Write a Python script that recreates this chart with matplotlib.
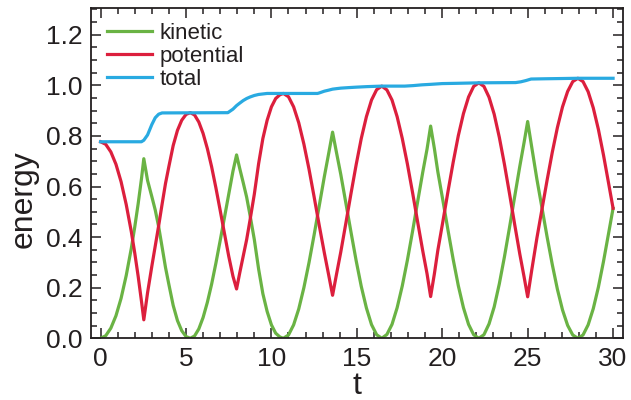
import matplotlib
matplotlib.use("Agg")
import matplotlib.pyplot as plt
from matplotlib.ticker import MultipleLocator

t_pk = [
    0.0, 0.3, 0.6, 0.9, 1.2, 1.5, 1.8, 2.0, 2.2, 2.4, 2.53,
    2.75, 3.0, 3.2, 3.4, 3.6, 3.8, 4.0, 4.25, 4.5, 4.75, 5.0, 5.25,
    5.5, 5.75, 6.0, 6.25, 6.5, 6.75, 7.0, 7.25, 7.5, 7.75, 7.96,
    8.15, 8.35, 8.55, 8.75, 9.0, 9.25, 9.5, 9.75, 10.0, 10.25, 10.5, 10.7,
    11.0, 11.3, 11.6, 11.9, 12.2, 12.5, 12.8, 13.1, 13.35, 13.58,
    13.81, 14.06, 14.36, 14.66, 14.96, 15.26, 15.56, 15.86, 16.16, 16.46,
    16.76, 17.06, 17.36, 17.66, 17.96, 18.26, 18.56, 18.86, 19.11, 19.32,
    19.54, 19.74, 20.04, 20.34, 20.64, 20.94, 21.24, 21.54, 21.84, 22.14,
    22.44, 22.74, 23.04, 23.34, 23.64, 23.94, 24.24, 24.54, 24.79, 25.0,
    25.24, 25.54, 25.84, 26.14, 26.44, 26.74, 27.04, 27.34, 27.64, 27.94,
    28.24, 28.54, 28.84, 29.14, 29.44, 29.74, 30.0,
]
potential = [
    0.777, 0.767, 0.737, 0.688, 0.619, 0.529, 0.421, 0.337, 0.245, 0.143, 0.073,
    0.180, 0.285, 0.365, 0.445, 0.530, 0.612, 0.680, 0.762, 0.822, 0.862, 0.885, 0.892,
    0.883, 0.855, 0.810, 0.750, 0.678, 0.595, 0.506, 0.415, 0.325, 0.245, 0.195,
    0.260, 0.325, 0.390, 0.468, 0.570, 0.690, 0.790, 0.862, 0.915, 0.948, 0.963, 0.968,
    0.955, 0.915, 0.852, 0.768, 0.669, 0.559, 0.446, 0.337, 0.251, 0.170,
    0.253, 0.341, 0.456, 0.573, 0.686, 0.790, 0.876, 0.942, 0.983, 0.997,
    0.982, 0.942, 0.876, 0.790, 0.689, 0.577, 0.460, 0.345, 0.255, 0.165,
    0.255, 0.347, 0.463, 0.582, 0.696, 0.801, 0.888, 0.954, 0.996, 1.010,
    0.996, 0.953, 0.886, 0.795, 0.688, 0.571, 0.450, 0.333, 0.243, 0.164,
    0.270, 0.396, 0.511, 0.626, 0.735, 0.833, 0.915, 0.976, 1.015, 1.028,
    1.015, 0.975, 0.911, 0.826, 0.724, 0.612, 0.514,
]
kinetic = [
    0.000, 0.010, 0.040, 0.089, 0.158, 0.248, 0.356, 0.440, 0.532, 0.634, 0.710,
    0.624, 0.560, 0.507, 0.441, 0.361, 0.280, 0.212, 0.130, 0.070, 0.030, 0.007, 0.000,
    0.009, 0.037, 0.082, 0.142, 0.214, 0.297, 0.386, 0.477, 0.569, 0.661, 0.725,
    0.670, 0.615, 0.558, 0.486, 0.390, 0.274, 0.176, 0.106, 0.053, 0.020, 0.005, 0.000,
    0.013, 0.053, 0.116, 0.200, 0.299, 0.409, 0.524, 0.640, 0.730, 0.815,
    0.734, 0.648, 0.534, 0.419, 0.307, 0.205, 0.120, 0.054, 0.014, 0.000,
    0.015, 0.055, 0.121, 0.207, 0.309, 0.422, 0.540, 0.657, 0.748, 0.839,
    0.750, 0.659, 0.544, 0.426, 0.312, 0.208, 0.121, 0.055, 0.014, 0.000,
    0.014, 0.057, 0.124, 0.215, 0.322, 0.439, 0.560, 0.680, 0.774, 0.857,
    0.755, 0.629, 0.515, 0.400, 0.292, 0.194, 0.112, 0.051, 0.013, 0.000,
    0.013, 0.053, 0.117, 0.202, 0.304, 0.416, 0.514,
]

# total energy, its own time points
t_total = [
    0.0, 2.39, 2.53, 2.75, 3.0, 3.2, 3.4, 3.6, 7.45, 7.75, 7.96, 8.15, 8.35,
    8.55, 8.75, 9.0, 9.25, 9.5, 9.75, 12.7, 12.8, 13.1, 13.35, 13.58, 13.81,
    14.06, 14.5, 15.0, 15.6, 16.46, 17.8, 18.3, 18.8, 19.32, 20.0, 20.8, 21.5,
    22.14, 24.3, 24.6, 24.9, 25.0, 25.2, 26.0, 27.0, 27.94, 30.0,
]
total = [
    0.777, 0.777, 0.783, 0.804, 0.845, 0.872, 0.886, 0.891, 0.892, 0.906, 0.920, 0.930, 0.940,
    0.948, 0.954, 0.960, 0.964, 0.966, 0.968, 0.968, 0.970, 0.977, 0.981, 0.985, 0.987,
    0.989, 0.991, 0.993, 0.995, 0.997, 0.997, 0.999, 1.002, 1.004, 1.007, 1.008, 1.009,
    1.010, 1.011, 1.014, 1.019, 1.021, 1.025, 1.026, 1.027, 1.028, 1.028,
]

GREEN = "#6AB344"
RED = "#DC1F3D"
BLUE = "#29AAE1"
INK = "#231F20"

plt.rcParams["font.family"] = ["Liberation Sans", "DejaVu Sans"]

fig = plt.figure(figsize=(6.31, 4.0), dpi=100)
ax = fig.add_axes([0.1437, 0.1543, 0.8436, 0.8258])

ax.plot(t_pk, kinetic, color=GREEN, lw=2.3, label="kinetic", solid_joinstyle="round")
ax.plot(t_pk, potential, color=RED, lw=2.3, label="potential", solid_joinstyle="round")
ax.plot(t_total, total, color=BLUE, lw=2.3, label="total", solid_joinstyle="round")

ax.set_xlim(-0.58, 30.58)
ax.set_ylim(0, 1.306)
ax.xaxis.set_major_locator(MultipleLocator(5))
ax.xaxis.set_minor_locator(MultipleLocator(1))
ax.yaxis.set_major_locator(MultipleLocator(0.2))
ax.yaxis.set_minor_locator(MultipleLocator(0.05))
ax.yaxis.set_major_formatter(lambda v, p: f"{v:.1f}")

for s in ax.spines.values():
    s.set_linewidth(1.3)
    s.set_color(INK)
ax.tick_params(which="both", direction="in", top=True, right=True,
               width=1.1, color=INK, labelcolor=INK, labelsize=19)
ax.tick_params(which="major", length=7, pad=6)
ax.tick_params(which="minor", length=4)
ax.tick_params(axis="x", which="both", labeltop=False)
ax.tick_params(axis="y", which="both", labelright=False)

ax.set_xlabel("t", fontsize=23, color=INK, labelpad=0)
ax.set_ylabel("energy", fontsize=23, color=INK)
ax.yaxis.set_label_coords(-0.097, 0.42)

ax.legend(loc="upper left", bbox_to_anchor=(0.031, 0.955), frameon=False,
          fontsize=16, handlelength=2.0, handletextpad=0.35,
          labelspacing=0.1, borderpad=0, borderaxespad=0, labelcolor=INK)

fig.savefig("out.png", dpi=100)
